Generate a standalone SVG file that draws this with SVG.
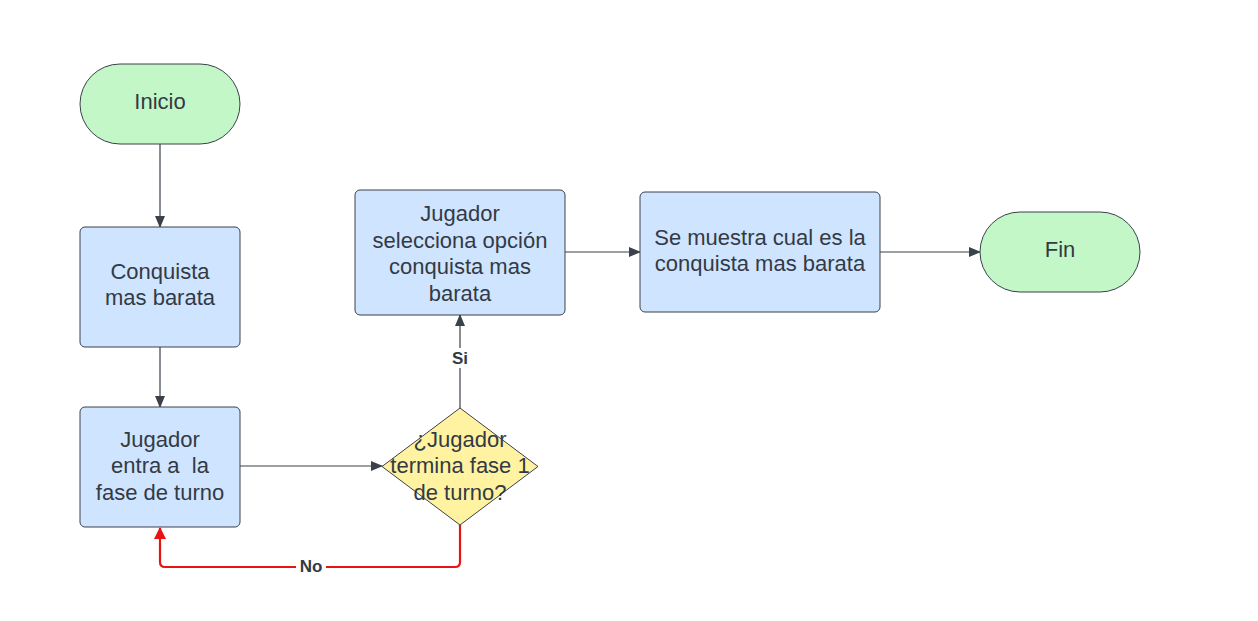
<svg xmlns="http://www.w3.org/2000/svg" width="1258" height="621" viewBox="0 0 1258 621">
<defs>
<style>
.t{font-family:"Liberation Sans",Arial,sans-serif;font-size:22px;fill:#333a44;text-anchor:middle}
.lb{font-family:"Liberation Sans",Arial,sans-serif;font-size:17px;font-weight:bold;fill:#333a44;text-anchor:middle}
.proc{fill:#cfe4ff;stroke:#3a414a;stroke-width:1}
.term{fill:#c3f7c8;stroke:#3a414a;stroke-width:1}
.dec{fill:#fff2a1;stroke:#3a414a;stroke-width:1}
.c{fill:none;stroke:#3a414a;stroke-width:1.2}
.r{fill:none;stroke:#e81313;stroke-width:2.2}
</style>
<marker id="ah" markerWidth="12" markerHeight="10" refX="11" refY="5" orient="auto" markerUnits="userSpaceOnUse">
<path d="M0,0 L12,5 L0,10 Z" fill="#3a414a"/>
</marker>
<marker id="ahr" markerWidth="12" markerHeight="12" refX="11" refY="6" orient="auto" markerUnits="userSpaceOnUse">
<path d="M0,0 L12,6 L0,12 Z" fill="#e81313"/>
</marker>
</defs>
<rect width="1258" height="621" fill="#ffffff"/>
<g id="connectors">
<path class="c" d="M160,144 L160,227" marker-end="url(#ah)"/>
<path class="c" d="M160,347 L160,407" marker-end="url(#ah)"/>
<path class="c" d="M240,466 L382,466" marker-end="url(#ah)"/>
<path class="c" d="M460,408 L460,315" marker-end="url(#ah)"/>
<path class="c" d="M565,252 L640,252" marker-end="url(#ah)"/>
<path class="c" d="M880,252 L980,252" marker-end="url(#ah)"/>
<path class="r" d="M460,525 L460,562 Q460,567 455,567 L165,567 Q160,567 160,562 L160,528" marker-end="url(#ahr)"/>
<rect x="447" y="348" width="26" height="20" fill="#ffffff"/>
<text class="lb" x="460" y="364">Si</text>
<rect x="296" y="556" width="30" height="20" fill="#ffffff"/>
<text class="lb" x="311" y="572">No</text>
</g>
<g id="inicio">
<rect class="term" x="80" y="64" width="160" height="80" rx="40" ry="40"/>
<text class="t" x="160" y="109">Inicio</text>
</g>
<g id="conquista">
<rect class="proc" x="80" y="227" width="160" height="120" rx="5"/>
<text class="t" x="160" y="279">Conquista</text>
<text class="t" x="160" y="305">mas barata</text>
</g>
<g id="entra">
<rect class="proc" x="80" y="407" width="160" height="120" rx="5"/>
<text class="t" x="160" y="447">Jugador</text>
<text class="t" x="160" y="473" xml:space="preserve">entra a  la</text>
<text class="t" x="160" y="500">fase de turno</text>
</g>
<g id="decision">
<path class="dec" d="M460,408 L538,466.5 L460,525 L382,466.5 Z" stroke-linejoin="round"/>
<text class="t" x="460" y="447">¿Jugador</text>
<text class="t" x="460" y="473">termina fase 1</text>
<text class="t" x="460" y="500">de turno?</text>
</g>
<g id="selecciona">
<rect class="proc" x="355" y="190" width="210" height="125" rx="5"/>
<text class="t" x="460" y="221">Jugador</text>
<text class="t" x="460" y="248">selecciona opción</text>
<text class="t" x="460" y="274">conquista mas</text>
<text class="t" x="460" y="301">barata</text>
</g>
<g id="muestra">
<rect class="proc" x="640" y="192" width="240" height="120" rx="5"/>
<text class="t" x="760" y="245">Se muestra cual es la</text>
<text class="t" x="760" y="271">conquista mas barata</text>
</g>
<g id="fin">
<rect class="term" x="980" y="212" width="160" height="80" rx="40" ry="40"/>
<text class="t" x="1060" y="257">Fin</text>
</g>
</svg>
